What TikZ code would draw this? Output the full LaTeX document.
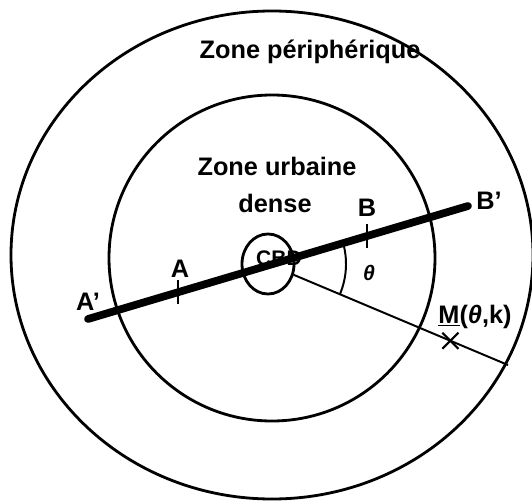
\documentclass[tikz,border=0pt]{standalone}
\usepackage{fontspec}
\setmainfont{Liberation Sans}
\usetikzlibrary{calc,positioning,shapes.geometric,shapes.misc}

\begin{document}
\begin{tikzpicture}[
    x=0.025cm, y=0.025cm,
    zone/.style={draw, line width=2pt},
    axis/.style={line width=5.5pt, line cap=round},
    radial/.style={line width=1.4pt},
    tickmark/.style={line width=2pt},
    txt/.style={font=\fontsize{18}{21}\selectfont\bfseries, inner sep=0pt, anchor=base}
]
    \useasboundingbox (0,0) rectangle (532,501);

    % Zones
    \draw[zone] (272,246) ellipse [x radius=261, y radius=244];
    \draw[zone] (272,243) circle [radius=163];
    \node[ellipse, draw, line width=2pt, minimum width=1.3cm, minimum height=1.5cm, inner sep=0pt] (cbd) at (268,237) {};
    \node[font=\fontsize{15}{18}\selectfont\bfseries, inner sep=0pt] (cbdtxt) at (279,243) {CBD};

    \node[txt] (peri) at (310,442) {Zone périphérique};
    \node[txt] (urb) at (277,325) {Zone urbaine};
    \node[txt] (dense) at (275,288) {dense};

    % Axis A'B'
    \coordinate (Ap) at (88,182);
    \coordinate (Bp) at (468,295);
    \draw[axis] (Ap) -- (Bp);

    % Ticks A and B
    \coordinate (a) at ($(Ap)!0.237!(Bp)$);
    \coordinate (b) at ($(Ap)!0.734!(Bp)$);
    \draw[tickmark] ($(a)+(0,-12)$) -- ($(a)+(0,12)$);
    \draw[tickmark] ($(b)+(0,-12)$) -- ($(b)+(0,12)$);

    \node[txt] (lA) at (180,224) {A};
    \node[txt] (lB) at (367,284) {B};
    \node[txt] (lAp) at (88,191) {A'};
    \node[txt] (lBp) at (489,291) {B'};

    % Radial line, angle and point M
    \coordinate (R) at (508,136);
    \draw[radial] (cbd) -- (R);
    \draw[radial] ($(cbd.center)+(16.6:78)$) arc[start angle=16.6, end angle=-23, radius=78];
    \node[font=\fontsize{15}{18}\selectfont\bfseries\itshape, inner sep=0pt] (theta) at (369,228) {θ};

    \node[cross out, draw, line width=1.5pt, minimum size=0.35cm, inner sep=0pt] (M) at ($(cbd.center)!0.76!(R)$) {};
    \node[txt] (lM) at (475,178) {\underline{M}(\textit{θ},k)};
\end{tikzpicture}
\end{document}
